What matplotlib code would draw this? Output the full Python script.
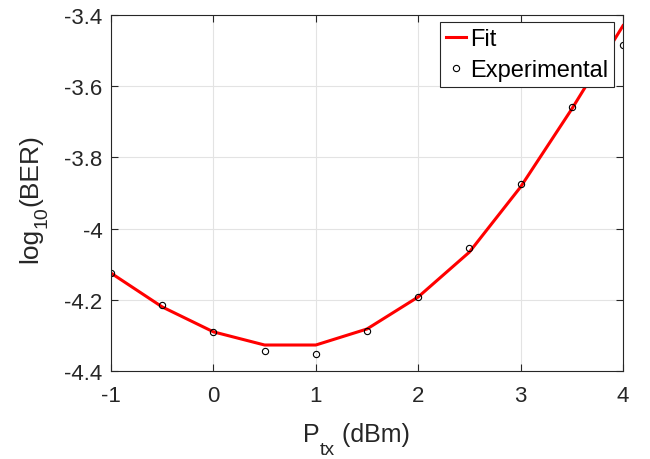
import numpy as np
import matplotlib.pyplot as plt

plt.rcParams['font.family'] = ['Liberation Sans', 'DejaVu Sans']

# 측정값과 피팅값
p_tx = [-1, -0.5, 0, 0.5, 1, 1.5, 2, 2.5, 3, 3.5, 4]
ber_exp = [-4.125, -4.215, -4.291, -4.343, -4.352, -4.287, -4.191, -4.054, -3.874, -3.659, -3.483]
ber_fit = [-4.125, -4.220, -4.290, -4.327, -4.327, -4.282, -4.192, -4.066, -3.883, -3.664, -3.430]

W, H = 650, 460
fig = plt.figure(figsize=(W/100, H/100), dpi=100)
ax = fig.add_axes([111/W, 1-372/H, (623-111)/W, (372-16)/H])

ax.plot(p_tx, ber_fit, color='red', lw=2.2, label='Fit')
ax.plot(p_tx, ber_exp, 'o', mfc='none', mec='black', ms=4.5, mew=0.8, label='Experimental')

ax.set_xlim(-1, 4)
ax.set_ylim(-4.4, -3.4)
ax.set_xticks([-1, 0, 1, 2, 3, 4])
ax.set_xticklabels(['-1', '0', '1', '2', '3', '4'])
ax.set_yticks([-4.4, -4.2, -4, -3.8, -3.6, -3.4])
ax.set_yticklabels(['-4.4', '-4.2', '-4', '-3.8', '-3.6', '-3.4'])
ax.grid(True, color='#e3e3e3', lw=0.8)
ax.set_axisbelow(True)
ax.tick_params(direction='in', top=True, right=True, labelsize=16, length=5,
               width=0.8, colors='#262626')
ax.tick_params(axis='x', pad=10)
ax.tick_params(axis='y', pad=6)
for s in ax.spines.values():
    s.set_color('#262626')
    s.set_linewidth(0.8)

leg = ax.legend(loc='upper right', bbox_to_anchor=((614-111)/512, (372-23)/356),
                borderaxespad=0, fontsize=17, frameon=True, fancybox=False,
                borderpad=0.25, handlelength=0.85, handletextpad=0.15, labelspacing=0.4)
leg.get_frame().set_edgecolor('#262626')
leg.get_frame().set_linewidth(0.8)
leg.get_frame().set_alpha(1)

# 축 이름: 아래첨자를 더 내려서 조각으로 배치
renderer = fig.canvas.get_renderer()

def text_w(s, size):
    t = fig.text(0, 0, s, fontsize=size)
    w = t.get_window_extent(renderer).width
    t.remove()
    return w

# x축 이름 P_tx (dBm)
x0 = 303
for s, size, drop in [('P', 18, 0), ('tx', 14, 13), (' (dBm)', 18, 0)]:
    fig.text(x0/W, 1-(442+drop)/H, s, fontsize=size, color='#262626',
             ha='left', va='baseline')
    x0 += text_w(s, size)

# y축 이름 log10(BER)
y0 = 263
for s, size, drop in [('log', 19, 0), ('10', 14, 10), ('(BER)', 19, 0)]:
    fig.text((37+drop)/W, 1-y0/H, s, fontsize=size, color='#262626',
             ha='left', va='baseline', rotation=90, rotation_mode='anchor')
    y0 -= text_w(s, size)

plt.savefig('out.png')
